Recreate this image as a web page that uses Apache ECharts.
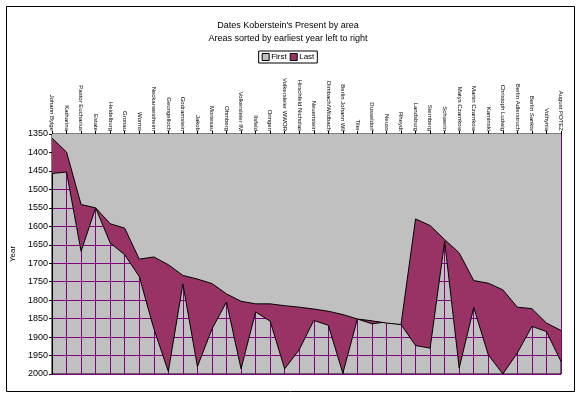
<!DOCTYPE html>
<html>
<head>
<meta charset="utf-8">
<script src="https://cdn.jsdelivr.net/npm/echarts@6/dist/echarts.min.js"></script>
<style>
html,body{margin:0;padding:0;background:#fff;}
#chart{width:576px;height:394px;}
</style>
</head>
<body>
<div id="chart"></div>
<script>
var areas = ["Johann Bylge","Katharina","Pastor Eucharius","Estate","Heidelburg","Gronau","Worms","Neckarwestheim","Geungelloch","Godramstein","Jakob","Mortesau","Ohmberg","Volkersleier IM","Ilsfeld","Oringen","Volkersleier WWOR","Hirschfeld Nicholas","Neuenstein","Dimbach/Wildbach","Berlin Johann Wil","Tiler","Dusseldorf","Neuss","Rheydt","Landsburg","Sternberg","Schwerin","Matys Czarnkow","Martin Czarnkow","Kaminski","Christoph Ludwig","Berlin Adlerstruch","Berlin Sankts","Volhynia","August POTEZ"];
var firstYear = [1361,1399,1541,1550,1593,1605,1689,1683,1704,1733,1743,1755,1783,1803,1810,1810,1815,1819,1824,1830,1839,1851,1856,1862,1866,1580,1598,1636,1672,1747,1754,1772,1819,1823,1862,1882];
var lastYear = [1457,1453,1668,1550,1645,1677,1736,1877,1993,1756,1980,1878,1805,1986,1832,1857,1986,1934,1855,1868,1998,1851,1864,1859,1866,1923,1930,1641,1984,1820,1948,2000,1943,1871,1885,1966];
var yearMin = 1350, yearMax = 2000, yearStep = 50;

var FONT = '"Liberation Sans", Arial, sans-serif';
var chart = echarts.init(document.getElementById('chart'), null, {renderer:'canvas'});
chart.setOption({
  animation: false,
  backgroundColor: '#fff',
  textStyle: {fontFamily: FONT, color: '#000'},
  title: {
    text: "Dates Koberstein's Present by area\nAreas sorted by earliest year left to right",
    left: 'center', top: 14,
    textStyle: {fontSize: 9, fontWeight: 'normal', lineHeight: 13, fontFamily: FONT, color:'#000'}
  },
  legend: {
    data: ['First','Last'],
    top: 51, left: 'center',
    icon: 'rect', itemWidth: 7, itemHeight: 7, itemGap: 3,
    padding: [2,3,2,3],
    borderColor: '#000', borderWidth: 1,
    backgroundColor: '#fff',
    textStyle: {fontSize: 8, fontFamily: FONT, color:'#000', padding:[0,0,0,-3]},
    itemStyle: {borderColor:'#000', borderWidth:1}
  },
  grid: {
    left: 52, right: 15, top: 134, bottom: 20,
    show: true, backgroundColor: '#C0C0C0', borderColor: '#000', borderWidth: 1
  },
  xAxis: {
    type: 'category', data: areas, position: 'top', boundaryGap: false,
    axisLine: {lineStyle: {color:'#000', width:1}},
    axisTick: {show:true, length:3, lineStyle:{color:'#000'}},
    axisLabel: {rotate: 90, fontSize: 6, margin: 3, color:'#000', fontFamily: FONT, interval: 0},
    splitLine: {show: true, lineStyle: {color:'#800080', width:1}}
  },
  yAxis: {
    type: 'value', inverse: true, min: yearMin, max: yearMax, interval: yearStep,
    name: 'Year', nameLocation: 'middle', nameGap: 33, nameRotate: 90,
    nameTextStyle: {fontSize: 8, fontFamily: FONT, color:'#000'},
    axisLine: {show:true, lineStyle:{color:'#000', width:1}},
    axisTick: {show:true, length:3, lineStyle:{color:'#000'}},
    axisLabel: {fontSize: 9, margin: 4, color:'#000', fontFamily: FONT,
      formatter: function (v) { return String(v); }},
    splitLine: {show:true, lineStyle:{color:'#800080', width:1}}
  },
  series: [
    {
      name: 'Last', type: 'line', data: lastYear, symbol: 'none', z: 2,
      itemStyle: {color:'#993366', borderColor:'#000'},
      lineStyle: {color:'#000', width:1},
      areaStyle: {color:'#993366', opacity:1, origin:'start'}
    },
    {
      name: 'First', type: 'line', data: firstYear, symbol: 'none', z: 3,
      itemStyle: {color:'#C0C0C0', borderColor:'#000'},
      lineStyle: {color:'#000', width:1},
      areaStyle: {color:'#C0C0C0', opacity:1, origin:'start'}
    }
  ],
  graphic: [{
    type: 'rect', left: 4, top: 4, silent: true, z: 100,
    shape: {x:0, y:0, width: 568, height: 385},
    style: {fill: 'none', stroke: '#000', lineWidth: 1}
  }]
});
</script>
</body>
</html>
